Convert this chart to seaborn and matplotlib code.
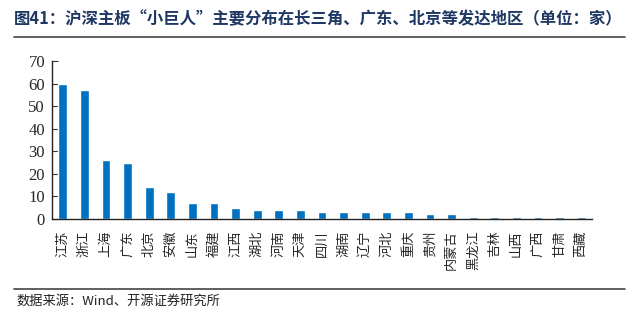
import numpy as np
import pandas as pd
import matplotlib
matplotlib.use("Agg")
import matplotlib.pyplot as plt
import seaborn as sns
from matplotlib.lines import Line2D

regions = ["江苏", "浙江", "上海", "广东", "北京", "安徽", "山东", "福建", "江西", "湖北",
           "河南", "天津", "四川", "湖南", "辽宁", "河北", "重庆", "贵州", "内蒙古", "黑龙江",
           "吉林", "山西", "广西", "甘肃", "西藏"]
counts = [60, 57, 26, 25, 14, 12, 7, 7, 5, 4,
          4, 4, 3, 3, 3, 3, 3, 2, 2, 1,
          1, 1, 1, 1, 1]
y_ticks = [0, 10, 20, 30, 40, 50, 60, 70]

title = "图41：沪深主板“小巨人”主要分布在长三角、广东、北京等发达地区（单位：家）"
source = "数据来源：Wind、开源证券研究所"

sns.set_theme(style="white")
plt.rcParams['font.family'] = ['Noto Sans CJK SC', 'DejaVu Sans']

W, H = 634, 326
fig = plt.figure(figsize=(W / 100, H / 100), dpi=100)
ax = fig.add_axes([52 / W, 1 - 219 / H, (592 - 52) / W, (219 - 61) / H])

df = pd.DataFrame({"region": regions, "count": counts})
sns.barplot(data=df, x="region", y="count", color="#0070C0", width=0.4,
            saturation=1, ax=ax)

ax.set_xlim(-0.5, len(regions) - 0.5)
ax.set_ylim(0, 70)
ax.set_yticks(y_ticks)
ax.set_yticklabels([str(v) for v in y_ticks], family=['Liberation Serif'], fontsize=12)
ax.set_xlabel("")
ax.set_ylabel("")

ax.set_xticks(np.arange(len(regions)))
ax.set_xticklabels(regions, rotation=90, fontsize=9.5, va="top", ha="center")
ax.tick_params(axis="x", which="major", length=0, pad=8)
ax.set_xticks(np.arange(-0.5, len(regions), 1), minor=True)
ax.tick_params(axis="x", which="minor", direction="in", length=4, color="#333333", width=0.8)
ax.tick_params(axis="y", which="major", direction="in", length=4, color="#333333", width=0.8, pad=5, left=True)

for s in ["top", "right"]:
    ax.spines[s].set_visible(False)
for s in ["left", "bottom"]:
    ax.spines[s].set_color("#222222")
    ax.spines[s].set_linewidth(1.0)

fig.text(14 / W, 1 - 19 / H, title, fontsize=11.8, fontweight="bold", color="#1F3864",
         va="center", ha="left")
fig.add_artist(Line2D([14 / W, 625 / W], [1 - 37 / H, 1 - 37 / H], color="#444444", lw=1.2))
fig.add_artist(Line2D([14 / W, 625 / W], [1 - 289 / H, 1 - 289 / H], color="#444444", lw=1.2))
fig.text(16 / W, 1 - 301 / H, source, fontsize=9.5, color="#222222", va="center", ha="left")

fig.savefig("out.png", dpi=100)
